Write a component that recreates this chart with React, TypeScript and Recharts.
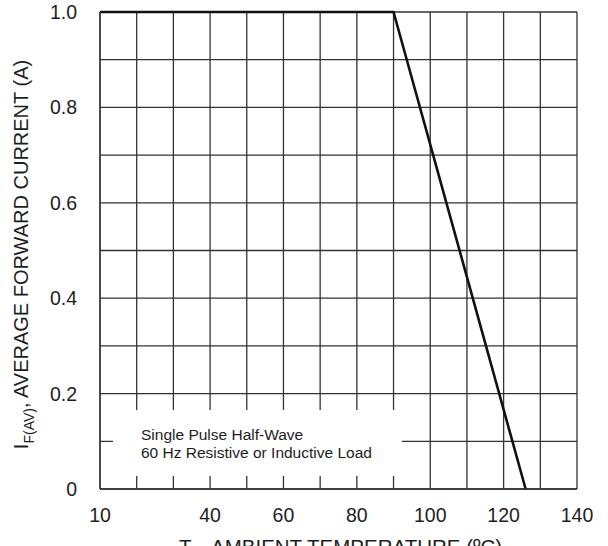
import React from 'react';
import { LineChart, Line, XAxis, YAxis, CartesianGrid, Label } from 'recharts';

// Ambient temperature (°C) and average forward current (A) of the derating curve
const temperature = [10, 90, 126];
const forwardCurrent = [1.0, 1.0, 0];

const xTicks = [10, 20, 30, 40, 50, 60, 70, 80, 90, 100, 110, 120, 130, 140];
const xTickLabels = ['10', '', '', '40', '', '60', '', '80', '', '100', '', '120', '', '140'];
const yTicks = [0, 0.1, 0.2, 0.3, 0.4, 0.5, 0.6, 0.7, 0.8, 0.9, 1.0];
const yTickLabels = ['0', '', '0.2', '', '0.4', '', '0.6', '', '0.8', '', '1.0'];

const legendLines = ['Single Pulse Half-Wave', '60 Hz Resistive or Inductive Load'];

const FONT = '"Liberation Sans", Arial, Helvetica, sans-serif';
const TEXT = '#1e1e1e';
const GRID = '#333333';

const data = temperature.map((t, i) => ({ t, current: forwardCurrent[i] }));

const YLabel = (props: any) => {
  const vb = props.viewBox || { x: 0, y: 12, width: 100, height: 477 };
  const cx = 28;
  const cy = vb.y + vb.height / 2 + 4;
  return (
    <text
      x={cx}
      y={cy}
      transform={`rotate(-90, ${cx}, ${cy})`}
      textAnchor="middle"
      fontFamily={FONT}
      fontSize={20}
      fill={TEXT}
    >
      <tspan>I</tspan>
      <tspan fontSize={14} dy={6}>F(AV)</tspan>
      <tspan dy={-6}>, AVERAGE FORWARD CURRENT (A)</tspan>
    </text>
  );
};

const XLabel = (props: any) => {
  const vb = props.viewBox || { x: 100, y: 489, width: 477, height: 57 };
  const cx = vb.x + vb.width / 2 + 2;
  const cy = vb.y + 65;
  return (
    <text x={cx} y={cy} textAnchor="middle" fontFamily={FONT} fontSize={20.5} fill={TEXT}>
      <tspan>T</tspan>
      <tspan fontSize={14} dy={6}>A</tspan>
      <tspan dy={-6}>, AMBIENT TEMPERATURE (ºC)</tspan>
    </text>
  );
};

export default function App() {
  return (
    <div style={{ position: 'absolute', left: 0, top: 0, width: 608, height: 546, background: '#fff', overflow: 'hidden' }}>
      <LineChart width={608} height={546} data={data} margin={{ top: 12, right: 31, bottom: 0, left: 0 }}>
        <CartesianGrid stroke={GRID} strokeWidth={1.3} />
        <XAxis
          type="number"
          dataKey="t"
          domain={[10, 140]}
          ticks={xTicks}
          interval={0}
          tickSize={0}
          tickMargin={19}
          tickLine={false}
          axisLine={{ stroke: GRID, strokeWidth: 1.3 }}
          height={57}
          tick={{ fill: TEXT, fontSize: 19.5, fontFamily: FONT }}
          tickFormatter={(v: number) => xTickLabels[xTicks.indexOf(v)] ?? ''}
        >
          <Label content={<XLabel />} />
        </XAxis>
        <YAxis
          type="number"
          domain={[0, 1]}
          ticks={yTicks}
          interval={0}
          width={100}
          tickSize={0}
          tickMargin={23}
          tickLine={false}
          axisLine={{ stroke: GRID, strokeWidth: 1.3 }}
          tick={{ fill: TEXT, fontSize: 19.5, fontFamily: FONT }}
          tickFormatter={(v: number) => yTickLabels[yTicks.indexOf(v)] ?? ''}
        >
          <Label content={<YLabel />} />
        </YAxis>
        <Line
          type="linear"
          dataKey="current"
          stroke="#111111"
          strokeWidth={2.6}
          dot={false}
          activeDot={false}
          isAnimationActive={false}
        />
      </LineChart>
      <div
        style={{
          position: 'absolute',
          left: 113,
          top: 410,
          width: 289,
          height: 66,
          background: '#ffffff',
          boxSizing: 'border-box',
          paddingLeft: 28,
          paddingTop: 15.5,
          fontFamily: FONT,
          fontSize: 15.5,
          lineHeight: '18px',
          color: TEXT,
          whiteSpace: 'nowrap',
        }}
      >
        {legendLines.map((l) => (
          <div key={l}>{l}</div>
        ))}
      </div>
    </div>
  );
}
